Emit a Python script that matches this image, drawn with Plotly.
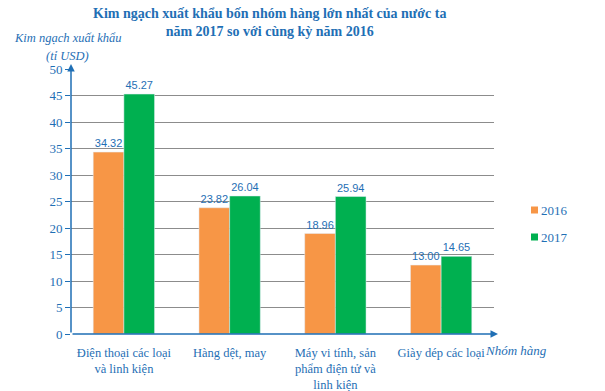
import plotly.graph_objects as go

categories = ["Điện thoại các loại<br>và linh kiện", "Hàng dệt, may",
              "Máy vi tính, sản<br>phẩm điện tử và<br>linh kiện", "Giày dép các loại"]
v2016 = [34.32, 23.82, 18.96, 13.00]
v2017 = [45.27, 26.04, 25.94, 14.65]
yticks = [0, 5, 10, 15, 20, 25, 30, 35, 40, 45, 50]
series_names = ["2016", "2017"]
series_colors = ["#F79646", "#00B050"]

BLUE = "#1F6FB5"
SERIF = "Liberation Serif"
SANS = "Liberation Sans"

PW, PH, L, T = 423, 265, 71, 69
def px(x): return (x - L) / PW
def py(y): return (T + PH - y) / PH

fig = go.Figure()
for name, vals, col in zip(series_names, [v2016, v2017], series_colors):
    fig.add_trace(go.Bar(name=name, x=categories, y=vals, marker_color=col,
                         text=[f"{v:.2f}" for v in vals], textposition="outside",
                         textfont=dict(size=11, color=BLUE, family=SANS),
                         cliponaxis=False, showlegend=False))

fig.update_layout(
    width=605, height=391,
    margin=dict(l=L, r=605 - L - PW, t=T, b=391 - T - PH, autoexpand=False),
    paper_bgcolor="white", plot_bgcolor="white",
    barmode="group", bargap=0.42, bargroupgap=0,
    font=dict(family=SERIF, color=BLUE, size=13),
    showlegend=False,
    xaxis=dict(showgrid=False, showline=False, ticks="", ticklabelstandoff=9, automargin=False,
               tickfont=dict(family=SERIF, size=12.5, color=BLUE)),
    yaxis=dict(range=[0, 50], tickvals=yticks, showgrid=True, gridcolor="#8C8C8C", gridwidth=1,
               showline=False, zeroline=False, ticks="outside", ticklen=5, tickcolor=BLUE,
               automargin=False, tickfont=dict(family=SERIF, size=13, color=BLUE)),
)

# title
fig.add_annotation(xref="paper", yref="paper", x=px(269), y=py(4), xanchor="center", yanchor="top",
                   text="<b>Kim ngạch xuất khẩu bốn nhóm hàng lớn nhất của nước ta<br>năm 2017 so với cùng kỳ năm 2016</b>",
                   showarrow=False, align="center",
                   font=dict(family=SERIF, size=14, color=BLUE))

# axis arrows
fig.add_annotation(xref="paper", yref="paper", x=0, y=py(64), ax=0, ay=270, axref="pixel", ayref="pixel",
                   showarrow=True, arrowhead=2, arrowsize=1, arrowwidth=1.5, arrowcolor=BLUE, text="")
fig.add_annotation(xref="paper", yref="paper", x=px(498), y=0, ax=-427, ay=0,
                   showarrow=True, arrowhead=2, arrowsize=1, arrowwidth=1.5, arrowcolor=BLUE, text="")

# axis titles
fig.add_annotation(xref="paper", yref="paper", x=px(68), y=py(38), xanchor="center", yanchor="middle",
                   text="<i>Kim ngạch xuất khẩu</i>", showarrow=False,
                   font=dict(family=SERIF, size=12.5, color=BLUE))
fig.add_annotation(xref="paper", yref="paper", x=px(67), y=py(56), xanchor="center", yanchor="middle",
                   text="<i>(tỉ USD)</i>", showarrow=False,
                   font=dict(family=SERIF, size=12.5, color=BLUE))
fig.add_annotation(xref="paper", yref="paper", x=px(483), y=py(350), xanchor="left", yanchor="middle",
                   text="<i>Nhóm hàng</i>", showarrow=False,
                   font=dict(family=SERIF, size=13, color=BLUE))

# legend
for i, (name, col) in enumerate(zip(series_names, series_colors)):
    yc = 210 + 27 * i
    fig.add_shape(type="rect", xref="paper", yref="paper",
                  x0=px(531), x1=px(538), y0=py(yc + 3.5), y1=py(yc - 3.5),
                  fillcolor=col, line=dict(width=0))
    fig.add_annotation(xref="paper", yref="paper", x=px(539), y=py(yc), xanchor="left", yanchor="middle",
                       text=name, showarrow=False,
                       font=dict(family=SERIF, size=13, color=BLUE))

fig.write_html("out.html")
